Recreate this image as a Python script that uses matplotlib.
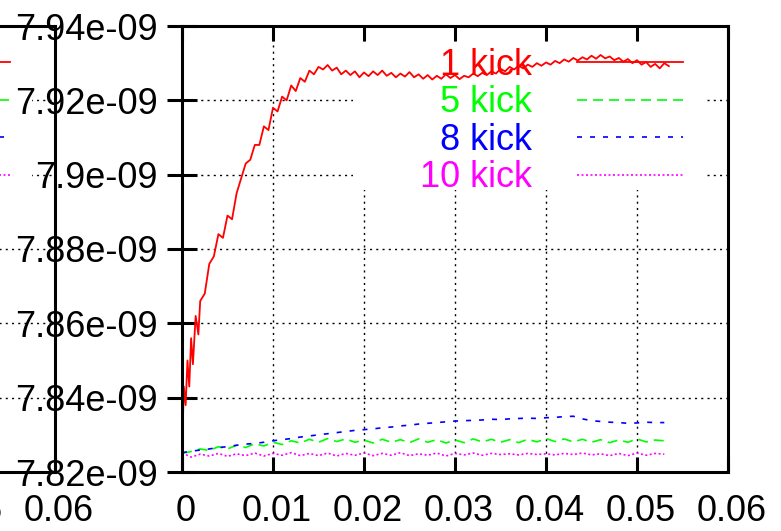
import numpy as np
import matplotlib.pyplot as plt
from matplotlib.patches import Rectangle
from matplotlib.ticker import FuncFormatter
from matplotlib.transforms import ScaledTranslation

plt.rcParams['font.family'] = ['Liberation Sans', 'DejaVu Sans']

# values are in units of 1e-9
red_t = [0, 0.0002, 0.0004, 0.0006, 0.0008, 0.001, 0.0012, 0.0015, 0.0018,
         0.0020, 0.0025, 0.0030, 0.0035, 0.0040, 0.0045, 0.0050, 0.0055, 0.0060, 0.0065,
         0.0070, 0.0075, 0.0080, 0.0085, 0.0090, 0.0095, 0.0100, 0.0105, 0.0110, 0.0115,
         0.0120, 0.0125, 0.0130, 0.0135, 0.0140, 0.0145, 0.0150, 0.0155, 0.0160, 0.0165,
         0.0170, 0.0175, 0.0180, 0.0185, 0.0190, 0.0195, 0.0200, 0.0205, 0.0210, 0.0215,
         0.0220, 0.0225, 0.0230, 0.0235, 0.0240, 0.0245, 0.0250, 0.0255, 0.0260, 0.0265,
         0.0270, 0.0275, 0.0280, 0.0285, 0.0290, 0.0295, 0.0300, 0.0305, 0.0310, 0.0315,
         0.0320, 0.0325, 0.0330, 0.0335, 0.0340, 0.0345, 0.0350, 0.0355, 0.0360, 0.0365,
         0.0370, 0.0375, 0.0380, 0.0385, 0.0390, 0.0395, 0.0400, 0.0405, 0.0410, 0.0415,
         0.0420, 0.0425, 0.0430, 0.0435, 0.0440, 0.0445, 0.0450, 0.0455, 0.0460, 0.0465,
         0.0470, 0.0475, 0.0480, 0.0485, 0.0490, 0.0495, 0.0500, 0.0505, 0.0510, 0.0515,
         0.0520, 0.0525, 0.0530, 0.0535]
red_v = [7.8246, 7.843, 7.838, 7.850, 7.843, 7.856, 7.849, 7.862, 7.857,
         7.866, 7.868, 7.876, 7.878, 7.884, 7.883, 7.889, 7.888, 7.895, 7.899,
         7.903, 7.904, 7.908, 7.908, 7.913, 7.912, 7.918, 7.917, 7.921, 7.920,
         7.924, 7.9225, 7.926, 7.925, 7.928, 7.927, 7.929, 7.9283, 7.9295, 7.928,
         7.9288, 7.927, 7.928, 7.9268, 7.9278, 7.9262, 7.9275, 7.9265, 7.9278, 7.9268,
         7.928, 7.9266, 7.9274, 7.9262, 7.9272, 7.9264, 7.9276, 7.9262, 7.9270, 7.9258,
         7.9268, 7.9256, 7.9266, 7.9258, 7.9270, 7.9260, 7.9268, 7.9257, 7.9266, 7.9262,
         7.9272, 7.9265, 7.9274, 7.9268, 7.9278, 7.9272, 7.9285, 7.9278, 7.9290, 7.9283,
         7.9293, 7.9286, 7.9296, 7.9290, 7.9300, 7.9293, 7.9302, 7.9296, 7.9306, 7.9300,
         7.9310, 7.9304, 7.9314, 7.9307, 7.9316, 7.9310, 7.9320, 7.9312, 7.9322, 7.9313,
         7.9318, 7.9308, 7.9314, 7.9304, 7.9311, 7.9300, 7.9308, 7.9296, 7.9303, 7.9290,
         7.9298, 7.9286, 7.9300, 7.9292]

t = [0.000, 0.001, 0.002, 0.003, 0.004, 0.005, 0.006, 0.007, 0.008, 0.009,
     0.010, 0.011, 0.012, 0.013, 0.014, 0.015, 0.016, 0.017, 0.018, 0.019,
     0.020, 0.021, 0.022, 0.023, 0.024, 0.025, 0.026, 0.027, 0.028, 0.029,
     0.030, 0.031, 0.032, 0.033, 0.034, 0.035, 0.036, 0.037, 0.038, 0.039,
     0.040, 0.041, 0.042, 0.043, 0.044, 0.045, 0.046, 0.047, 0.048, 0.049,
     0.050, 0.051, 0.052, 0.053]
green_v = [7.8250, 7.8255, 7.8262, 7.8258, 7.8268, 7.8262, 7.8272, 7.8266, 7.8276, 7.8270,
           7.8280, 7.8274, 7.8284, 7.8278, 7.8288, 7.8280, 7.8290, 7.8282, 7.8289, 7.8280,
           7.8286, 7.8278, 7.8288, 7.8280, 7.8287, 7.8279, 7.8289, 7.8280, 7.8287, 7.8278,
           7.8286, 7.8279, 7.8289, 7.8281, 7.8288, 7.8280, 7.8287, 7.8279, 7.8288, 7.8281,
           7.8290, 7.8282, 7.8289, 7.8281, 7.8288, 7.8280, 7.8287, 7.8279, 7.8286, 7.8280,
           7.8289, 7.8281, 7.8286, 7.8284]
blue_v = [7.8252, 7.8256, 7.8259, 7.8262, 7.8266, 7.8268, 7.8272, 7.8275, 7.8277, 7.8280,
          7.8284, 7.8287, 7.8290, 7.8294, 7.8297, 7.8300, 7.8303, 7.8306, 7.8309, 7.8312,
          7.8314, 7.8316, 7.8319, 7.8321, 7.8324, 7.8326, 7.8329, 7.8331, 7.8333, 7.8335,
          7.8337, 7.8338, 7.8339, 7.8340, 7.8342, 7.8341, 7.8343, 7.8344, 7.8345, 7.8344,
          7.8346, 7.8347, 7.8349, 7.8350, 7.8343, 7.8338, 7.8336, 7.8334, 7.8333, 7.8331,
          7.8332, 7.8334, 7.8333, 7.8333]
magenta_v = [7.8252, 7.8240, 7.8248, 7.8243, 7.8250, 7.8242, 7.8249, 7.8244, 7.8251, 7.8243,
             7.8250, 7.8245, 7.8252, 7.8244, 7.8250, 7.8244, 7.8251, 7.8243, 7.8250, 7.8245,
             7.8251, 7.8244, 7.8250, 7.8245, 7.8252, 7.8244, 7.8249, 7.8245, 7.8251, 7.8243,
             7.8250, 7.8246, 7.8251, 7.8245, 7.8250, 7.8247, 7.8249, 7.8246, 7.8250, 7.8247,
             7.8249, 7.8246, 7.8250, 7.8247, 7.8251, 7.8246, 7.8249, 7.8244, 7.8250, 7.8244,
             7.8251, 7.8245, 7.8250, 7.8248]

labels = ['1 kick', '5 kick', '8 kick', '10 kick']
yticks = [7.82e-9, 7.84e-9, 7.86e-9, 7.88e-9, 7.9e-9, 7.92e-9, 7.94e-9]
xticks = [0, 0.01, 0.02, 0.03, 0.04, 0.05, 0.06]

W, H = 781, 531
fig = plt.figure(figsize=(W / 100, H / 100), dpi=100)

# two identical panels, the left one sits mostly off the page (gnuplot multiplot)
for left_px in (182 - 673, 182):
    ax = fig.add_axes([left_px / W, 59 / H, 546 / W, 446 / H])
    ax.set_axisbelow(True)
    l1, = ax.plot(red_t, np.array(red_v) * 1e-9, color='#ff0000', lw=1.3, zorder=2)
    l2, = ax.plot(t, np.array(green_v) * 1e-9, color='#00ff00', lw=1.2,
                  linestyle=(0, (6.0, 3.6)), zorder=2)
    l3, = ax.plot(t, np.array(blue_v) * 1e-9, color='#0000ff', lw=1.2,
                  linestyle=(0, (3.0, 4.8)), zorder=2)
    l4, = ax.plot(t, np.array(magenta_v) * 1e-9, color='#ff00ff', lw=1.2,
                  linestyle=(0, (1.2, 1.5)), zorder=2)

    ax.set_xlim(0, 0.06)
    ax.set_ylim(7.82e-9, 7.94e-9)
    ax.set_xticks(xticks)
    ax.set_yticks(yticks)
    ax.xaxis.set_major_formatter(FuncFormatter(lambda v, p: '%g' % v))
    ax.yaxis.set_major_formatter(FuncFormatter(lambda v, p: '%g' % v))
    ax.tick_params(axis='y', direction='inout', length=21.6, width=2.2, pad=6.5,
                   labelsize=26, right=False)
    ax.tick_params(axis='x', direction='in', length=11, width=2.2, pad=15.5,
                   labelsize=26, top=True)
    # gnuplot puts the x labels a little to the right of the tick
    shift = ScaledTranslation(0.04, 0, fig.dpi_scale_trans)
    for lab in ax.get_xticklabels():
        lab.set_transform(lab.get_transform() + shift)
    for s in ax.spines.values():
        s.set_linewidth(2.2)
    ax.grid(True, color='black', linestyle=(0, (1.5, 3)), linewidth=1.0)

    # key area hides the grid but not the curves
    ax.add_patch(Rectangle((0.313, 0.632), 0.645, 0.328, transform=ax.transAxes,
                           facecolor='white', edgecolor='none', zorder=0.8))
    leg = ax.legend([l1, l2, l3, l4], labels, loc='upper right',
                    bbox_to_anchor=(0.9176, 0.951), frameon=False, markerfirst=False,
                    handlelength=2.94, handletextpad=1.25, labelspacing=0.07,
                    borderpad=0, borderaxespad=0, fontsize=26, labelcolor='linecolor')
    leg.set_zorder(1)

fig.savefig('out.png', dpi=100)
